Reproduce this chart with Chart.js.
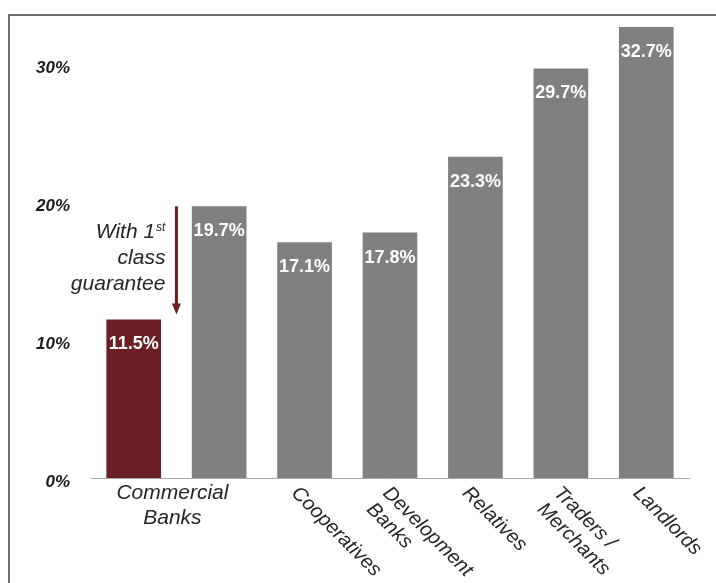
<!DOCTYPE html>
<html>
<head>
<meta charset="utf-8">
<script src="https://cdn.jsdelivr.net/npm/chart.js@4"></script>
<style>
  html, body { margin: 0; padding: 0; background: #fff; overflow: hidden; }
  #wrap { position: relative; width: 716px; height: 583px; }
  #frame { position: absolute; left: 8px; top: 14px; width: 760px; height: 620px;
           border-top: 2px solid #6e6e6e; border-left: 2px solid #6e6e6e; pointer-events: none; }
</style>
</head>
<body>
<div id="wrap">
  <canvas id="myChart" width="716" height="583"></canvas>
  <div id="frame"></div>
</div>
<script>
const ctx = document.getElementById('myChart').getContext('2d');

// Categories (second bar = commercial banks with a 1st class guarantee)
const labels = [
  ['Commercial', 'Banks'],
  [],
  ['Cooperatives'],
  ['Development', 'Banks'],
  ['Relatives'],
  ['Traders /', 'Merchants'],
  ['Landlords'],
];
const rates = [11.5, 19.7, 17.1, 17.8, 23.3, 29.7, 32.7];
const yTicks = [0, 10, 20, 30];
const noteLines = ['With 1', 'class', 'guarantee'];

const RED = '#6a1f22';
const GREY = '#808080';
const FONT = '"Liberation Sans", Arial, sans-serif';

// value labels, x labels and the guarantee note
const extras = {
  id: 'extras',
  afterDatasetsDraw(chart) {
    const c = chart.ctx;
    const x = chart.scales.x;
    const y = chart.scales.y;
    c.save();

    // white values inside bar tops
    c.fillStyle = '#fff';
    c.font = 'bold 18px ' + FONT;
    c.textAlign = 'center';
    c.textBaseline = 'alphabetic';
    rates.forEach((v, i) => {
      c.fillText(v.toFixed(1) + '%', x.getPixelForValue(i), y.getPixelForValue(v) + 30);
    });

    const base = y.getPixelForValue(0);
    c.fillStyle = '#262626';
    c.font = 'italic 21px ' + FONT;

    // first group label, flat, between bar 0 and bar 1
    const mid = (x.getPixelForValue(0) + x.getPixelForValue(1)) / 2 - 4;
    c.textAlign = 'center';
    c.textBaseline = 'top';
    labels[0].forEach((t, j) => c.fillText(t, mid, base + 5 + j * 25));

    // the rest rotated 45deg
    c.font = 'italic 20px ' + FONT;
    c.textAlign = 'left';
    for (let i = 2; i < labels.length; i++) {
      const lines = labels[i];
      const px = x.getPixelForValue(i) - 3 + (lines.length - 1) * 6;
      c.save();
      c.translate(px, base + 5);
      c.rotate(Math.PI / 4);
      lines.forEach((t, j) => c.fillText(t, 0, j * 23));
      c.restore();
    }

    // note + arrow
    const top = y.getPixelForValue(rates[1]);
    const tip = y.getPixelForValue(rates[0]) - 5;
    const ax = mid + 4;
    c.strokeStyle = RED;
    c.fillStyle = RED;
    c.lineWidth = 3;
    c.beginPath();
    c.moveTo(ax, top);
    c.lineTo(ax, tip - 8);
    c.stroke();
    c.beginPath();
    c.moveTo(ax - 4.5, tip - 11);
    c.lineTo(ax + 4.5, tip - 11);
    c.lineTo(ax, tip);
    c.closePath();
    c.fill();

    const rx = ax - 11;
    c.fillStyle = '#262626';
    c.textAlign = 'right';
    c.textBaseline = 'alphabetic';
    c.font = 'italic 12px ' + FONT;
    const supW = c.measureText('st').width;
    c.fillText('st', rx, top + 25);
    c.font = 'italic 21px ' + FONT;
    c.fillText(noteLines[0], rx - supW - 1, top + 32);
    c.fillText(noteLines[1], rx, top + 58);
    c.fillText(noteLines[2], rx, top + 84);

    c.restore();
  }
};

const data = {
  labels,
  datasets: [
    {
      data: rates,
      backgroundColor: rates.map((v, i) => (i === 0 ? RED : GREY)),
      borderWidth: 0,
      barPercentage: 0.64,
      categoryPercentage: 1,
    },
  ],
};

const config = {
  type: 'bar',
  data: data,
  options: {
    responsive: false,
    animation: false,
    layout: { padding: { top: 16, right: 27, left: 0, bottom: 0 } },
    plugins: { legend: { display: false }, tooltip: { enabled: false } },
    scales: {
      x: {
        grid: { display: false, drawTicks: false },
        border: { display: true, color: '#a6a6a6', width: 1 },
        ticks: { display: false },
        afterFit: (s) => { s.height = 105; s.paddingLeft = 0; s.paddingRight = 0; },
      },
      y: {
        min: 0,
        max: 33.5,
        grid: { display: false, drawTicks: false },
        border: { display: false },
        afterBuildTicks: (s) => { s.ticks = yTicks.map((v) => ({ value: v })); },
        afterFit: (s) => { s.width = 91; s.paddingTop = 0; s.paddingBottom = 0; },
        ticks: {
          padding: 21,
          labelOffset: 4,
          color: '#1a1a1a',
          font: { family: FONT, size: 17, style: 'italic', weight: 'bold' },
          callback: function (value) {
            return value + '%';
          },
        },
      },
    },
  },
  plugins: [extras],
};

const myChart = new Chart(ctx, config);
</script>
</body>
</html>
